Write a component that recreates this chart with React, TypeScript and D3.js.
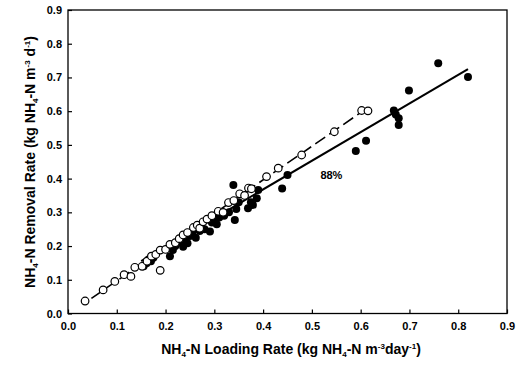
import React, { useRef, useEffect } from 'react';
import * as d3 from 'd3';

// open circles (dashed fit)
const openPts: [number, number][] = [
  [0.035, 0.037], [0.072, 0.07], [0.096, 0.095], [0.115, 0.115], [0.129, 0.11],
  [0.137, 0.137], [0.152, 0.14], [0.162, 0.155], [0.171, 0.17], [0.18, 0.175],
  [0.189, 0.188], [0.189, 0.128], [0.2, 0.19], [0.209, 0.205], [0.22, 0.21],
  [0.228, 0.222], [0.236, 0.233], [0.245, 0.24], [0.257, 0.255], [0.265, 0.262],
  [0.27, 0.253], [0.277, 0.272], [0.285, 0.28], [0.295, 0.29], [0.308, 0.303],
  [0.318, 0.3], [0.329, 0.329], [0.34, 0.335], [0.352, 0.355], [0.362, 0.35],
  [0.37, 0.372], [0.376, 0.37], [0.407, 0.406], [0.431, 0.431], [0.479, 0.47],
  [0.546, 0.539], [0.602, 0.602], [0.615, 0.601]
];

// filled circles (solid fit)
const filledPts: [number, number][] = [
  [0.155, 0.14], [0.161, 0.149], [0.165, 0.16], [0.17, 0.155], [0.175, 0.165],
  [0.209, 0.17], [0.21, 0.195], [0.215, 0.188], [0.22, 0.2], [0.225, 0.21],
  [0.23, 0.22], [0.236, 0.198], [0.24, 0.215], [0.245, 0.208], [0.25, 0.23],
  [0.255, 0.24], [0.262, 0.225], [0.27, 0.245], [0.28, 0.25], [0.291, 0.243],
  [0.295, 0.27], [0.3, 0.28], [0.305, 0.265], [0.31, 0.285], [0.32, 0.29],
  [0.33, 0.3], [0.342, 0.277], [0.339, 0.381], [0.345, 0.31], [0.35, 0.33],
  [0.369, 0.312], [0.375, 0.33], [0.379, 0.322], [0.387, 0.342], [0.39, 0.366],
  [0.439, 0.371], [0.45, 0.411], [0.59, 0.482], [0.611, 0.512], [0.668, 0.602],
  [0.672, 0.59], [0.678, 0.579], [0.678, 0.559], [0.699, 0.661], [0.759, 0.742],
  [0.82, 0.701]
];

// fitted lines: [x start, x end, slope, intercept]
const solidFit = [0.15, 0.82, 0.85, 0.028];
const dashedFit = [0.048, 0.6, 0.998, -0.003];

const tickValues = [0, 0.1, 0.2, 0.3, 0.4, 0.5, 0.6, 0.7, 0.8, 0.9];

const App: React.FC = () => {
  const svgRef = useRef<SVGSVGElement>(null);
  const width = 520;
  const height = 366;

  useEffect(() => {
    if (!svgRef.current) return;
    const svg = d3.select(svgRef.current);
    svg.selectAll('*').remove();

    const font = 'Liberation Sans, Arial, sans-serif';
    const x = d3.scaleLinear().domain([0, 0.9]).range([68, 507]);
    const y = d3.scaleLinear().domain([0, 0.9]).range([313.5, 10]);

    svg.append('rect')
      .attr('width', width)
      .attr('height', height)
      .attr('fill', '#fff');

    // frame
    svg.append('rect')
      .attr('x', x(0))
      .attr('y', y(0.9))
      .attr('width', x(0.9) - x(0))
      .attr('height', y(0) - y(0.9))
      .attr('fill', 'none')
      .attr('stroke', '#000')
      .attr('stroke-width', 1.3);

    // axes
    const xAxis = svg.append('g')
      .attr('transform', `translate(0,${y(0)})`)
      .call(d3.axisBottom(x).tickValues(tickValues).tickSizeInner(-4).tickSizeOuter(0).tickPadding(9).tickFormat(d3.format('.1f')));
    const yAxis = svg.append('g')
      .attr('transform', `translate(${x(0)},0)`)
      .call(d3.axisLeft(y).tickValues(tickValues).tickSizeInner(-4).tickSizeOuter(0).tickPadding(6).tickFormat(d3.format('.1f')));
    [xAxis, yAxis].forEach(a => {
      a.select('.domain').remove();
      a.selectAll('line').attr('stroke', '#000').attr('stroke-width', 1.2);
      a.selectAll('text')
        .attr('font-family', font)
        .attr('font-size', '11px')
        .attr('font-weight', 'bold')
        .attr('fill', '#000');
    });

    // fit lines
    const line = d3.line<number>()
      .x(d => x(d[0]))
      .y(d => y(d[1]));
    const fitPts = (f: number[]) => [f[0], f[1]].map(v => [v, f[2] * v + f[3]]);

    svg.append('path')
      .attr('d', line(fitPts(solidFit) as any))
      .attr('fill', 'none')
      .attr('stroke', '#000')
      .attr('stroke-width', 2);

    svg.append('path')
      .attr('d', line(fitPts(dashedFit) as any))
      .attr('fill', 'none')
      .attr('stroke', '#000')
      .attr('stroke-width', 1.6)
      .attr('stroke-dasharray', '12,5');

    // points
    svg.append('g').selectAll('circle')
      .data(filledPts)
      .enter()
      .append('circle')
      .attr('cx', d => x(d[0]))
      .attr('cy', d => y(d[1]))
      .attr('r', 4)
      .attr('fill', '#000');

    svg.append('g').selectAll('circle')
      .data(openPts)
      .enter()
      .append('circle')
      .attr('cx', d => x(d[0]))
      .attr('cy', d => y(d[1]))
      .attr('r', 3.8)
      .attr('fill', '#fff')
      .attr('stroke', '#000')
      .attr('stroke-width', 1.2);

    // annotation
    svg.append('text')
      .attr('x', x(0.54))
      .attr('y', y(0.41) + 4)
      .attr('text-anchor', 'middle')
      .attr('font-family', font)
      .attr('font-size', '11px')
      .attr('font-weight', 'bold')
      .text('88%');

    // x title
    const xt = svg.append('text')
      .attr('x', 291)
      .attr('y', 354)
      .attr('text-anchor', 'middle')
      .attr('font-family', font)
      .attr('font-size', '14px')
      .attr('font-weight', 'bold');
    xt.append('tspan').text('NH');
    xt.append('tspan').attr('font-size', '8px').attr('dy', 3).text('4');
    xt.append('tspan').attr('dy', -3).text('-N Loading Rate (kg NH');
    xt.append('tspan').attr('font-size', '8px').attr('dy', 3).text('4');
    xt.append('tspan').attr('dy', -3).text('-N m');
    xt.append('tspan').attr('font-size', '8px').attr('dy', -5).text('-3');
    xt.append('tspan').attr('dy', 5).text('day');
    xt.append('tspan').attr('font-size', '8px').attr('dy', -5).text('-1');
    xt.append('tspan').attr('dy', 5).text(')');

    // y title
    const yt = svg.append('text')
      .attr('transform', 'translate(35,162) rotate(-90)')
      .attr('text-anchor', 'middle')
      .attr('font-family', font)
      .attr('font-size', '14px')
      .attr('font-weight', 'bold');
    yt.append('tspan').text('NH');
    yt.append('tspan').attr('font-size', '8px').attr('dy', 3).text('4');
    yt.append('tspan').attr('dy', -3).text('-N Removal Rate (kg NH');
    yt.append('tspan').attr('font-size', '8px').attr('dy', 3).text('4');
    yt.append('tspan').attr('dy', -3).text('-N m');
    yt.append('tspan').attr('font-size', '8px').attr('dy', -5).text('-3');
    yt.append('tspan').attr('dy', 5).text(' d');
    yt.append('tspan').attr('font-size', '8px').attr('dy', -5).text('-1');
    yt.append('tspan').attr('dy', 5).text(')');
  }, []);

  return (
    <svg
      ref={svgRef}
      width={width}
      height={height}
      style={{ position: 'absolute', left: 0, top: 0 }}
    />
  );
};

export default App;
